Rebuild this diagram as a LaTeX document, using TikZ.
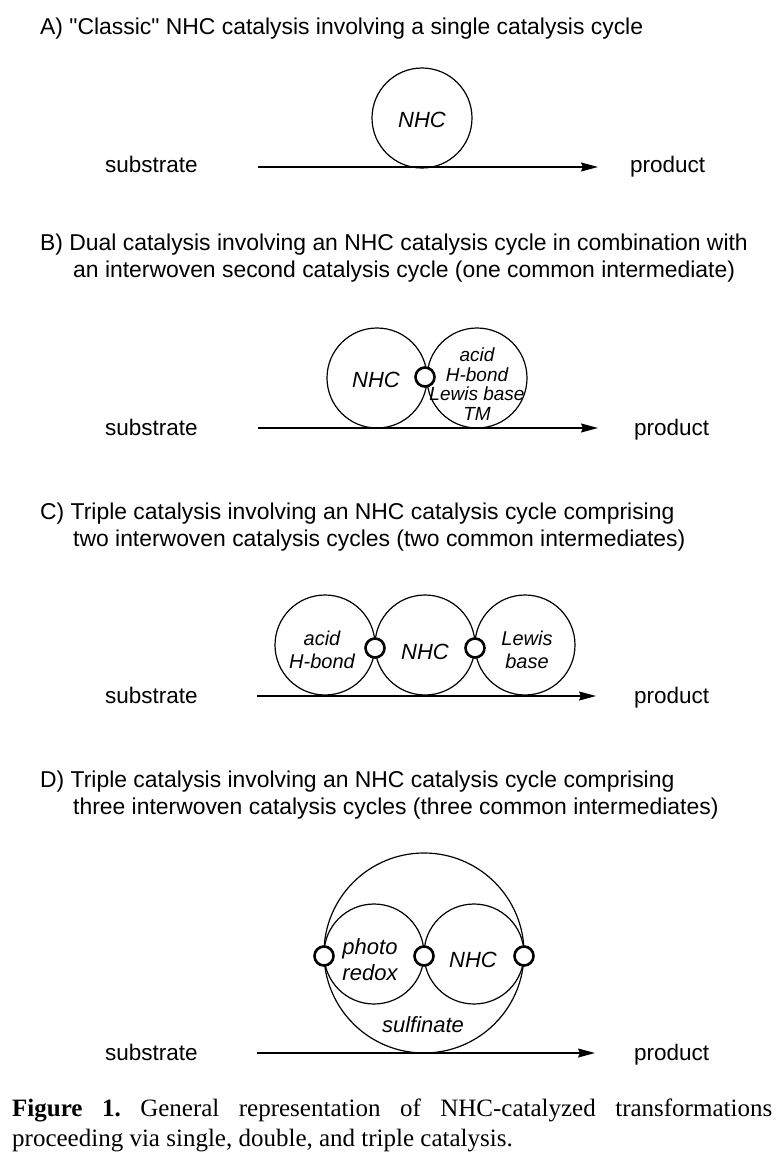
\documentclass[tikz,border=0pt]{standalone}
\usepackage{fontspec}
\setmainfont{Liberation Sans}
\newfontfamily\headfont{Liberation Sans}
\newfontfamily\capfont{Liberation Serif}
\usetikzlibrary{arrows.meta}

\tikzset{
    cycle/.style={draw, circle, line width=1.2pt, minimum size=2*\rc pt, inner sep=0pt},
    bigcycle/.style={cycle, minimum size=2*\rb pt},
    link/.style={draw, circle, line width=2.6pt, fill=white, minimum size=19pt, inner sep=0pt},
    reaction/.style={line width=1.3pt, -{Stealth[length=17pt,width=9pt,inset=2pt]}},
    head/.style={anchor=base west, inner sep=0pt, font=\headfont\fontsize{22.9}{27}\selectfont},
    side/.style={anchor=base west, inner sep=0pt},
    lab/.style={align=center, inner sep=0pt, font=\itshape\fontsize{22}{26}\selectfont},
    smalllab/.style={lab, font=\itshape\fontsize{19}{19.5}\selectfont},
    midlab/.style={lab, font=\itshape\fontsize{20}{23}\selectfont},
    capline/.style={side, font=\capfont\frenchspacing\fontsize{25}{30}\selectfont}
}

\begin{document}
\begin{tikzpicture}[x=1pt, y=-1pt, font=\fontsize{22.5}{27}\selectfont]

    \useasboundingbox (0,0) rectangle (780,1161);
    %\draw (0,0) rectangle (780,1161);

    \pgfmathsetmacro{\rc}{50}
    \pgfmathsetmacro{\rb}{100}

    % A
    \node[head] (a-head) at (40,35) {A) "Classic" NHC catalysis involving a single catalysis cycle};
    \node[side] (a-sub) at (105,173) {substrate};
    \node[side] (a-prod) at (630,173) {product};
    \node[cycle] (a-nhc) at (422,118) {};
    \node[lab] (a-nhc-t) at (422,120) {NHC};
    \coordinate (a-in) at (258,167);
    \coordinate (a-out) at (598,167);
    \draw[reaction] (a-in) -- (a-out);

    % B
    \node[head] (b-head) at (40,250) {B) Dual catalysis involving an NHC catalysis cycle in combination with};
    \node[head] (b-head2) at (73,277) {an interwoven second catalysis cycle (one common intermediate)};
    \node[side] (b-sub) at (105,435) {substrate};
    \node[side] (b-prod) at (634,435) {product};
    \node[cycle] (b-nhc) at (377,378) {};
    \node[cycle] (b-co) at (477,378) {};
    \node[lab] (b-nhc-t) at (376,380) {NHC};
    \node[smalllab] (b-co-t) at (477,384) {acid\\H-bond\\Lewis base\\TM};
    \node[link] (b-l) at (425,377) {};
    \coordinate (b-in) at (258,428);
    \coordinate (b-out) at (598,428);
    \draw[reaction] (b-in) -- (b-out);

    % C
    \node[head] (c-head) at (40,519) {C) Triple catalysis involving an NHC catalysis cycle comprising};
    \node[head] (c-head2) at (73,546) {two interwoven catalysis cycles (two common intermediates)};
    \node[side] (c-sub) at (105,703) {substrate};
    \node[side] (c-prod) at (634,703) {product};
    \node[cycle] (c-acid) at (325,645) {};
    \node[cycle] (c-nhc) at (425,645) {};
    \node[cycle] (c-lb) at (525,645) {};
    \node[midlab] (c-acid-t) at (322,650) {acid\\H-bond};
    \node[lab] (c-nhc-t) at (425,652) {NHC};
    \node[midlab] (c-lb-t) at (527,650) {Lewis\\base};
    \node[link] (c-l1) at (375,648) {};
    \node[link] (c-l2) at (475,648) {};
    \coordinate (c-in) at (257,696);
    \coordinate (c-out) at (596,696);
    \draw[reaction] (c-in) -- (c-out);

    % D
    \node[head] (d-head) at (40,787) {D) Triple catalysis involving an NHC catalysis cycle comprising};
    \node[head] (d-head2) at (73,814) {three interwoven catalysis cycles (three common intermediates)};
    \node[side] (d-sub) at (105,1060) {substrate};
    \node[side] (d-prod) at (634,1060) {product};
    \node[bigcycle] (d-sulf) at (424,953) {};
    \node[cycle] (d-photo) at (374,954) {};
    \node[cycle] (d-nhc) at (474,954) {};
    \node[lab] (d-photo-t) at (370,960) {photo\\redox};
    \node[lab] (d-nhc-t) at (473,960) {NHC};
    \node[lab] (d-sulf-t) at (423,1025) {sulfinate};
    \node[link] (d-l1) at (324,956) {};
    \node[link] (d-l2) at (424,956) {};
    \node[link] (d-l3) at (524,956) {};
    \coordinate (d-in) at (257,1053);
    \coordinate (d-out) at (595,1053);
    \draw[reaction] (d-in) -- (d-out);

    % caption
    \node[capline] (cap1) at (12,1116)
        {\makebox[760pt][s]{\textbf{Figure 1.} General representation of NHC-catalyzed transformations}};
    \node[capline] (cap2) at (12,1146)
        {proceeding via single, double, and triple catalysis.};

\end{tikzpicture}
\end{document}
